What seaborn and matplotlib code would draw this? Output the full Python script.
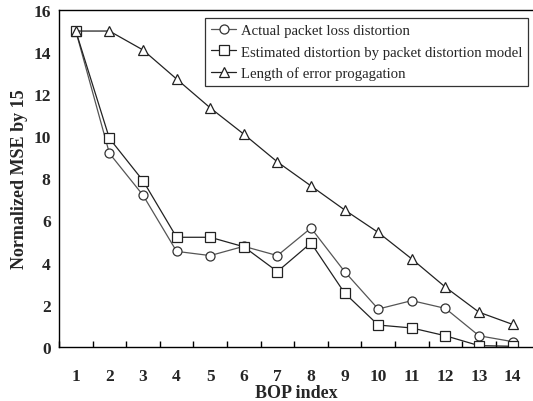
import matplotlib
matplotlib.use("Agg")
import matplotlib.pyplot as plt
import seaborn as sns
import pandas as pd
from matplotlib.ticker import FixedLocator

bop_index = list(range(1, 15))
actual = [15, 9.19, 7.2, 4.53, 4.33, 4.77, 4.33, 5.64, 3.57, 1.79, 2.19, 1.82, 0.52, 0.24]
estimated = [15, 9.9, 7.89, 5.2, 5.2, 4.75, 3.57, 4.93, 2.55, 1.03, 0.89, 0.52, 0.05, 0.02]
length_prop = [15, 15, 14.1, 12.72, 11.35, 10.1, 8.78, 7.64, 6.5, 5.43, 4.17, 2.83, 1.64, 1.06]
labels = ["Actual packet loss distortion",
          "Estimated distortion by packet distortion model",
          "Length of error progagation"]

sns.set_style("white")
plt.rcParams['font.family'] = ['Liberation Serif', 'DejaVu Serif']

fig = plt.figure(figsize=(5.33, 4.02), dpi=100)
ax = fig.add_axes([59/533, 1-347.7/402, (533-59)/533, (347.7-11)/402])

df = pd.DataFrame({"x": bop_index, "a": actual, "e": estimated, "l": length_prop})
sns.lineplot(data=df, x="x", y="a", ax=ax, color="#555555", lw=0.9, marker="o",
             markersize=6.5, markerfacecolor="white", markeredgecolor="#333333",
             markeredgewidth=0.9, label=labels[0])
sns.lineplot(data=df, x="x", y="e", ax=ax, color="#222222", lw=0.9, marker="s",
             markersize=6.5, markerfacecolor="white", markeredgecolor="#222222",
             markeredgewidth=0.9, label=labels[1])
sns.lineplot(data=df, x="x", y="l", ax=ax, color="#222222", lw=0.9, marker="^",
             markersize=7.5, markerfacecolor="white", markeredgecolor="#222222",
             markeredgewidth=0.9, label=labels[2])

ax.set_xlim(0.5, 0.5 + (533-59)/33.6)
ax.set_ylim(0, 16)
ax.set_yticks(range(0, 17, 2))
ax.set_xticks(bop_index)
ax.xaxis.set_minor_locator(FixedLocator([i + 0.5 for i in range(0, 14)]))
ax.tick_params(axis='x', which='major', length=0, pad=15, labelsize=12.5)
ax.tick_params(axis='x', which='minor', length=4, direction='in', width=1, color='black', bottom=True)
ax.tick_params(axis='y', length=0, pad=6, labelsize=12.5)
for lab in ax.get_xticklabels() + ax.get_yticklabels():
    lab.set_fontweight('bold')

for s in ['left', 'bottom', 'top']:
    ax.spines[s].set_visible(True)
    ax.spines[s].set_color('black')
    ax.spines[s].set_linewidth(1.0)
ax.spines['right'].set_visible(False)

ax.set_xlabel("BOP index", fontsize=13, fontweight='bold', labelpad=0)
ax.set_ylabel("Normalized MSE by 15", fontsize=13, fontweight='bold', labelpad=4)

leg = ax.legend(loc='upper right', bbox_to_anchor=((528-59)/474, 1 - (19-11)/336.7),
                frameon=True, fancybox=False, fontsize=10.6, handlelength=1.7,
                borderpad=0.4, labelspacing=0.55, handletextpad=0.3, borderaxespad=0)
leg.get_frame().set_edgecolor('black')
leg.get_frame().set_linewidth(0.9)

fig.savefig("out.png", dpi=100)
